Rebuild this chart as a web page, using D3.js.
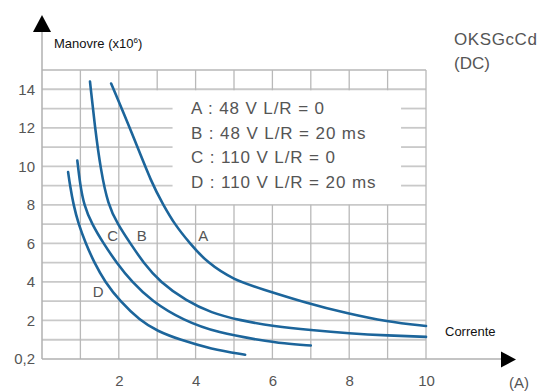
<!DOCTYPE html>
<html>
<head>
<meta charset="utf-8">
<script src="https://cdn.jsdelivr.net/npm/d3@7"></script>
<style>
  body { margin: 0; background: #fff; }
  text { font-family: "Liberation Sans", Arial, sans-serif; }
</style>
</head>
<body>
<script>
// Chart data (current in A, operations x10^6)
var xTicks = [2, 4, 6, 8, 10];
var yTicks = [0, 2, 4, 6, 8, 10, 12, 14];
var yTickLabels = ["0,2", "2", "4", "6", "8", "10", "12", "14"];

var curveA = [[1.8, 14.3], [2.35, 11.7], [2.86, 9.1], [3.16, 8.0], [3.45, 7.0], [3.85, 6.0], [4.3, 5.0], [5.0, 4.1], [5.7, 3.65], [6.9, 2.9], [7.94, 2.37], [8.98, 1.94], [10, 1.71]];
var curveB = [[1.25, 14.4], [1.38, 12.0], [1.53, 9.8], [1.72, 8.0], [1.97, 7.0], [2.3, 6.0], [2.64, 5.0], [3.07, 4.0], [3.77, 3.0], [4.4, 2.4], [5.16, 2.0], [6.04, 1.7], [7.0, 1.5], [8.0, 1.33], [9.0, 1.22], [10, 1.15]];
var curveC = [[0.92, 10.3], [0.99, 9.1], [1.09, 8.0], [1.3, 7.0], [1.6, 6.0], [1.94, 5.0], [2.34, 4.0], [2.86, 3.0], [3.68, 2.0], [4.6, 1.35], [5.68, 0.98], [6.3, 0.8], [7.0, 0.7]];
var curveD = [[0.68, 9.7], [0.73, 9.0], [0.82, 8.0], [0.95, 7.0], [1.14, 6.0], [1.36, 5.0], [1.64, 4.0], [2.03, 3.0], [2.55, 2.0], [3.0, 1.45], [3.59, 1.0], [4.4, 0.52], [5.29, 0.22]];

var curveNames = ["A", "B", "C", "D"];
var curveLabelPos = [[4.2, 6.4], [2.6, 6.4], [1.84, 6.4], [1.46, 3.5]];
var legendLines = ["A : 48 V L/R = 0", "B : 48 V L/R = 20 ms", "C : 110 V L/R = 0", "D : 110 V L/R = 20 ms"];

var svgWidth = 548;
var svgHeight = 391;

var svg = d3.select("body")
  .append("svg")
  .attr("width", svgWidth)
  .attr("height", svgHeight);

// scales
var xScale = d3.scaleLinear().domain([0, 10]).range([42, 426]);
var yScale = d3.scaleLinear().domain([0, 15]).range([359, 70]);

// legend box area (in data units) where grid is hidden
var box = { x0: 3.4, x1: 9.35, y0: 8.25, y1: 13.9 };

var grid = svg.append("g");

// horizontal grid lines
d3.range(1, 16).forEach(function(v) {
  var inBox = v > box.y0 && v < box.y1;
  var segs = inBox ? [[0, box.x0], [box.x1, 10]] : [[0, 10]];
  segs.forEach(function(s) {
    grid.append("line")
      .attr("x1", xScale(s[0])).attr("x2", xScale(s[1]))
      .attr("y1", yScale(v)).attr("y2", yScale(v))
      .attr("stroke", "#c9c9c9")
      .attr("stroke-width", 1.8);
  });
});

// vertical grid lines
d3.range(1, 11).forEach(function(v) {
  var inBox = v >= 3 && v < box.x1;
  var segs = inBox ? [[0, box.y0 - 0.25], [box.y1 + 0.05, 15]] : [[0, 15]];
  segs.forEach(function(s) {
    grid.append("line")
      .attr("x1", xScale(v)).attr("x2", xScale(v))
      .attr("y1", yScale(s[0])).attr("y2", yScale(s[1]))
      .attr("stroke", "#b9b9b9")
      .attr("stroke-width", 1.3);
  });
});

// axes lines + arrows
svg.append("line")
  .attr("x1", xScale(0)).attr("x2", xScale(0))
  .attr("y1", yScale(0)).attr("y2", 30)
  .attr("stroke", "#b0b0b0").attr("stroke-width", 1.5);
svg.append("line")
  .attr("x1", xScale(0)).attr("x2", 503)
  .attr("y1", yScale(0)).attr("y2", yScale(0))
  .attr("stroke", "#b0b0b0").attr("stroke-width", 1.5);

svg.append("path")
  .attr("d", "M33,32 L51,32 L42,15 Z")
  .attr("fill", "#000");
svg.append("path")
  .attr("d", "M501,351.5 L501,367.5 L516,359.5 Z")
  .attr("fill", "#000");

// tick labels via axes
var yAxis = d3.axisLeft(yScale)
  .tickValues(yTicks)
  .tickSize(0)
  .tickPadding(0)
  .tickFormat(function(d, i) { return yTickLabels[i]; });
var yg = svg.append("g")
  .attr("transform", "translate(35,0)")
  .call(yAxis);
yg.select(".domain").remove();
yg.selectAll("text")
  .attr("font-size", 15)
  .attr("font-family", "Liberation Sans, Arial, sans-serif")
  .attr("fill", "#555");

var xAxis = d3.axisBottom(xScale)
  .tickValues(xTicks)
  .tickSize(0)
  .tickPadding(0);
var xg = svg.append("g")
  .attr("transform", "translate(0,375)")
  .call(xAxis);
xg.select(".domain").remove();
xg.selectAll("text")
  .attr("font-size", 15)
  .attr("font-family", "Liberation Sans, Arial, sans-serif")
  .attr("fill", "#555");

svg.append("text")
  .attr("x", 519).attr("y", 388)
  .attr("text-anchor", "middle")
  .attr("font-size", 15)
  .attr("fill", "#555")
  .text("(A)");

// legend box
svg.append("g").selectAll("text")
  .data(legendLines).enter()
  .append("text")
  .attr("x", 191)
  .attr("y", function(d, i) { return 114 + i * 24.5; })
  .attr("font-size", 17)
  .attr("letter-spacing", 0.9)
  .attr("fill", "#555")
  .text(function(d) { return d; });

// curves
var line = d3.line()
  .x(function(d) { return xScale(d[0]); })
  .y(function(d) { return yScale(d[1]); })
  .curve(d3.curveBasis);

svg.append("g").selectAll("path")
  .data([curveA, curveB, curveC, curveD]).enter()
  .append("path")
  .attr("d", line)
  .attr("fill", "none")
  .attr("stroke", "#1c659b")
  .attr("stroke-width", 2.6)
  .attr("stroke-linecap", "round");

// curve letters
svg.append("g").selectAll("text")
  .data(curveNames).enter()
  .append("text")
  .attr("x", function(d, i) { return xScale(curveLabelPos[i][0]); })
  .attr("y", function(d, i) { return yScale(curveLabelPos[i][1]) + 5; })
  .attr("text-anchor", "middle")
  .attr("font-size", 15)
  .attr("fill", "#555")
  .text(function(d) { return d; });

// titles
var manovre = svg.append("text")
  .attr("x", 54).attr("y", 48)
  .attr("font-family", "Open Sans, sans-serif")
  .attr("font-size", 13)
  .attr("fill", "#111")
  .text("Manovre (x10");
manovre.append("tspan")
  .attr("font-size", 8)
  .attr("dy", -5)
  .text("6");
manovre.append("tspan")
  .attr("dy", 5)
  .text(")");

svg.append("text")
  .attr("x", 445).attr("y", 336)
  .attr("font-family", "Open Sans, sans-serif")
  .attr("font-size", 13)
  .attr("fill", "#111")
  .text("Corrente");

svg.append("text")
  .attr("x", 454).attr("y", 45)
  .attr("font-size", 17)
  .attr("letter-spacing", 0.6)
  .attr("fill", "#555")
  .text("OKSGcCd");
svg.append("text")
  .attr("x", 454).attr("y", 69)
  .attr("font-size", 17)
  .attr("fill", "#555")
  .text("(DC)");
</script>
</body>
</html>
